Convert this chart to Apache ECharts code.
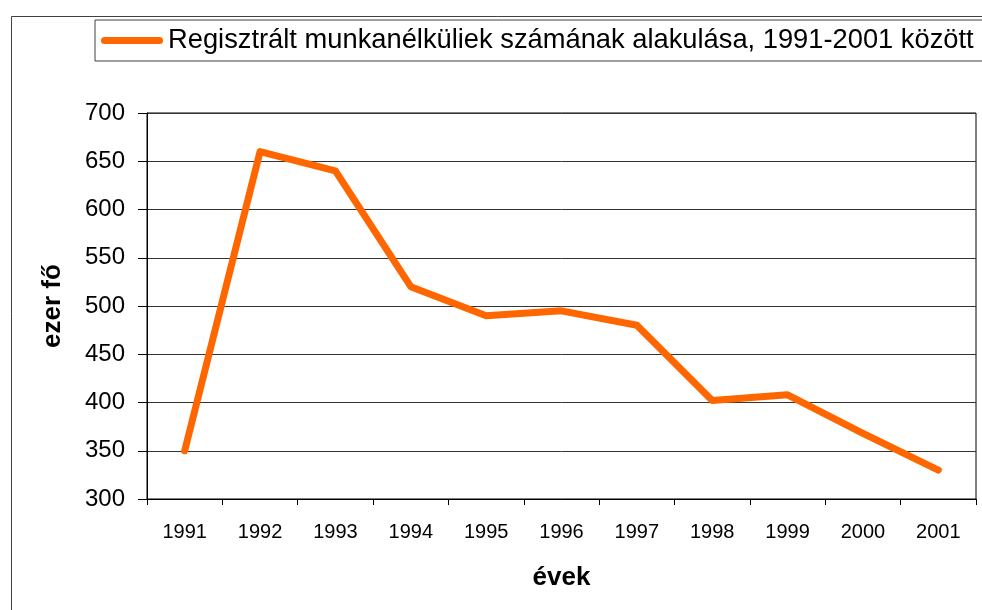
<!DOCTYPE html>
<html>
<head>
<meta charset="utf-8">
<script src="https://cdn.jsdelivr.net/npm/echarts@6/dist/echarts.min.js"></script>
<style>
html,body{margin:0;padding:0;background:#fff;}
#c{width:982px;height:610px;}
</style>
</head>
<body>
<div id="c"></div>
<script>
var categories = ['1991','1992','1993','1994','1995','1996','1997','1998','1999','2000','2001'];
var unemployed = [350, 660, 640, 520, 490, 495, 480, 402, 408, 368, 330];
var seriesName = 'Regisztrált munkanélküliek számának alakulása, 1991-2001 között';

var chart = echarts.init(document.getElementById('c'), null, {renderer:'canvas'});
chart.setOption({
  backgroundColor: '#fff',
  animation: false,
  graphic: [{
    type: 'rect', left: 9, top: 14, z: -10,
    shape: {width: 1100, height: 800},
    style: {fill: 'none', stroke: '#404040', lineWidth: 1}
  }],
  legend: {
    left: 95, top: 20,
    padding: [7, 60, 7, 6],
    borderColor: '#404040', borderWidth: 1,
    itemWidth: 62, itemHeight: 7, itemGap: 5,
    icon: 'path://M3.5,0 L58.5,0 A3.5,3.5 0 0 1 58.5,7 L3.5,7 A3.5,3.5 0 0 1 3.5,0 Z',
    textStyle: {fontFamily: 'Liberation Sans', fontSize: 27.3, color: '#000', padding: [0,0,0,0]},
    data: [seriesName]
  },
  grid: {
    left: 147, top: 113, width: 829, height: 386,
    show: true, borderColor: '#000', borderWidth: 1, containLabel: false
  },
  xAxis: {
    type: 'category', data: categories, boundaryGap: true,
    name: 'évek', nameLocation: 'middle', nameGap: 66,
    nameTextStyle: {fontFamily: 'Liberation Sans', fontSize: 26, fontWeight: 'bold', color: '#000'},
    axisLine: {lineStyle: {color: '#000', width: 1}},
    axisTick: {show: true, length: 6, alignWithLabel: false, lineStyle: {color: '#000'}},
    axisLabel: {fontFamily: 'Liberation Sans', fontSize: 20, color: '#000', margin: 23, interval: 0},
    splitLine: {show: false}
  },
  yAxis: {
    type: 'value', min: 300, max: 700, interval: 50,
    name: 'ezer fő', nameLocation: 'middle', nameGap: 81, nameRotate: 90,
    nameTextStyle: {fontFamily: 'Liberation Sans', fontSize: 26, fontWeight: 'bold', color: '#000'},
    axisLine: {show: true, lineStyle: {color: '#000', width: 1}},
    axisTick: {show: true, length: 9, lineStyle: {color: '#000'}},
    axisLabel: {fontFamily: 'Liberation Sans', fontSize: 24, color: '#000', margin: 22},
    splitLine: {show: true, lineStyle: {color: '#333', width: 1}}
  },
  series: [{
    name: seriesName, type: 'line', data: unemployed,
    symbol: 'none', smooth: false,
    itemStyle: {color: '#FF6600'},
    lineStyle: {color: '#FF6600', width: 7, cap: 'round', join: 'round'}
  }]
});
</script>
</body>
</html>
